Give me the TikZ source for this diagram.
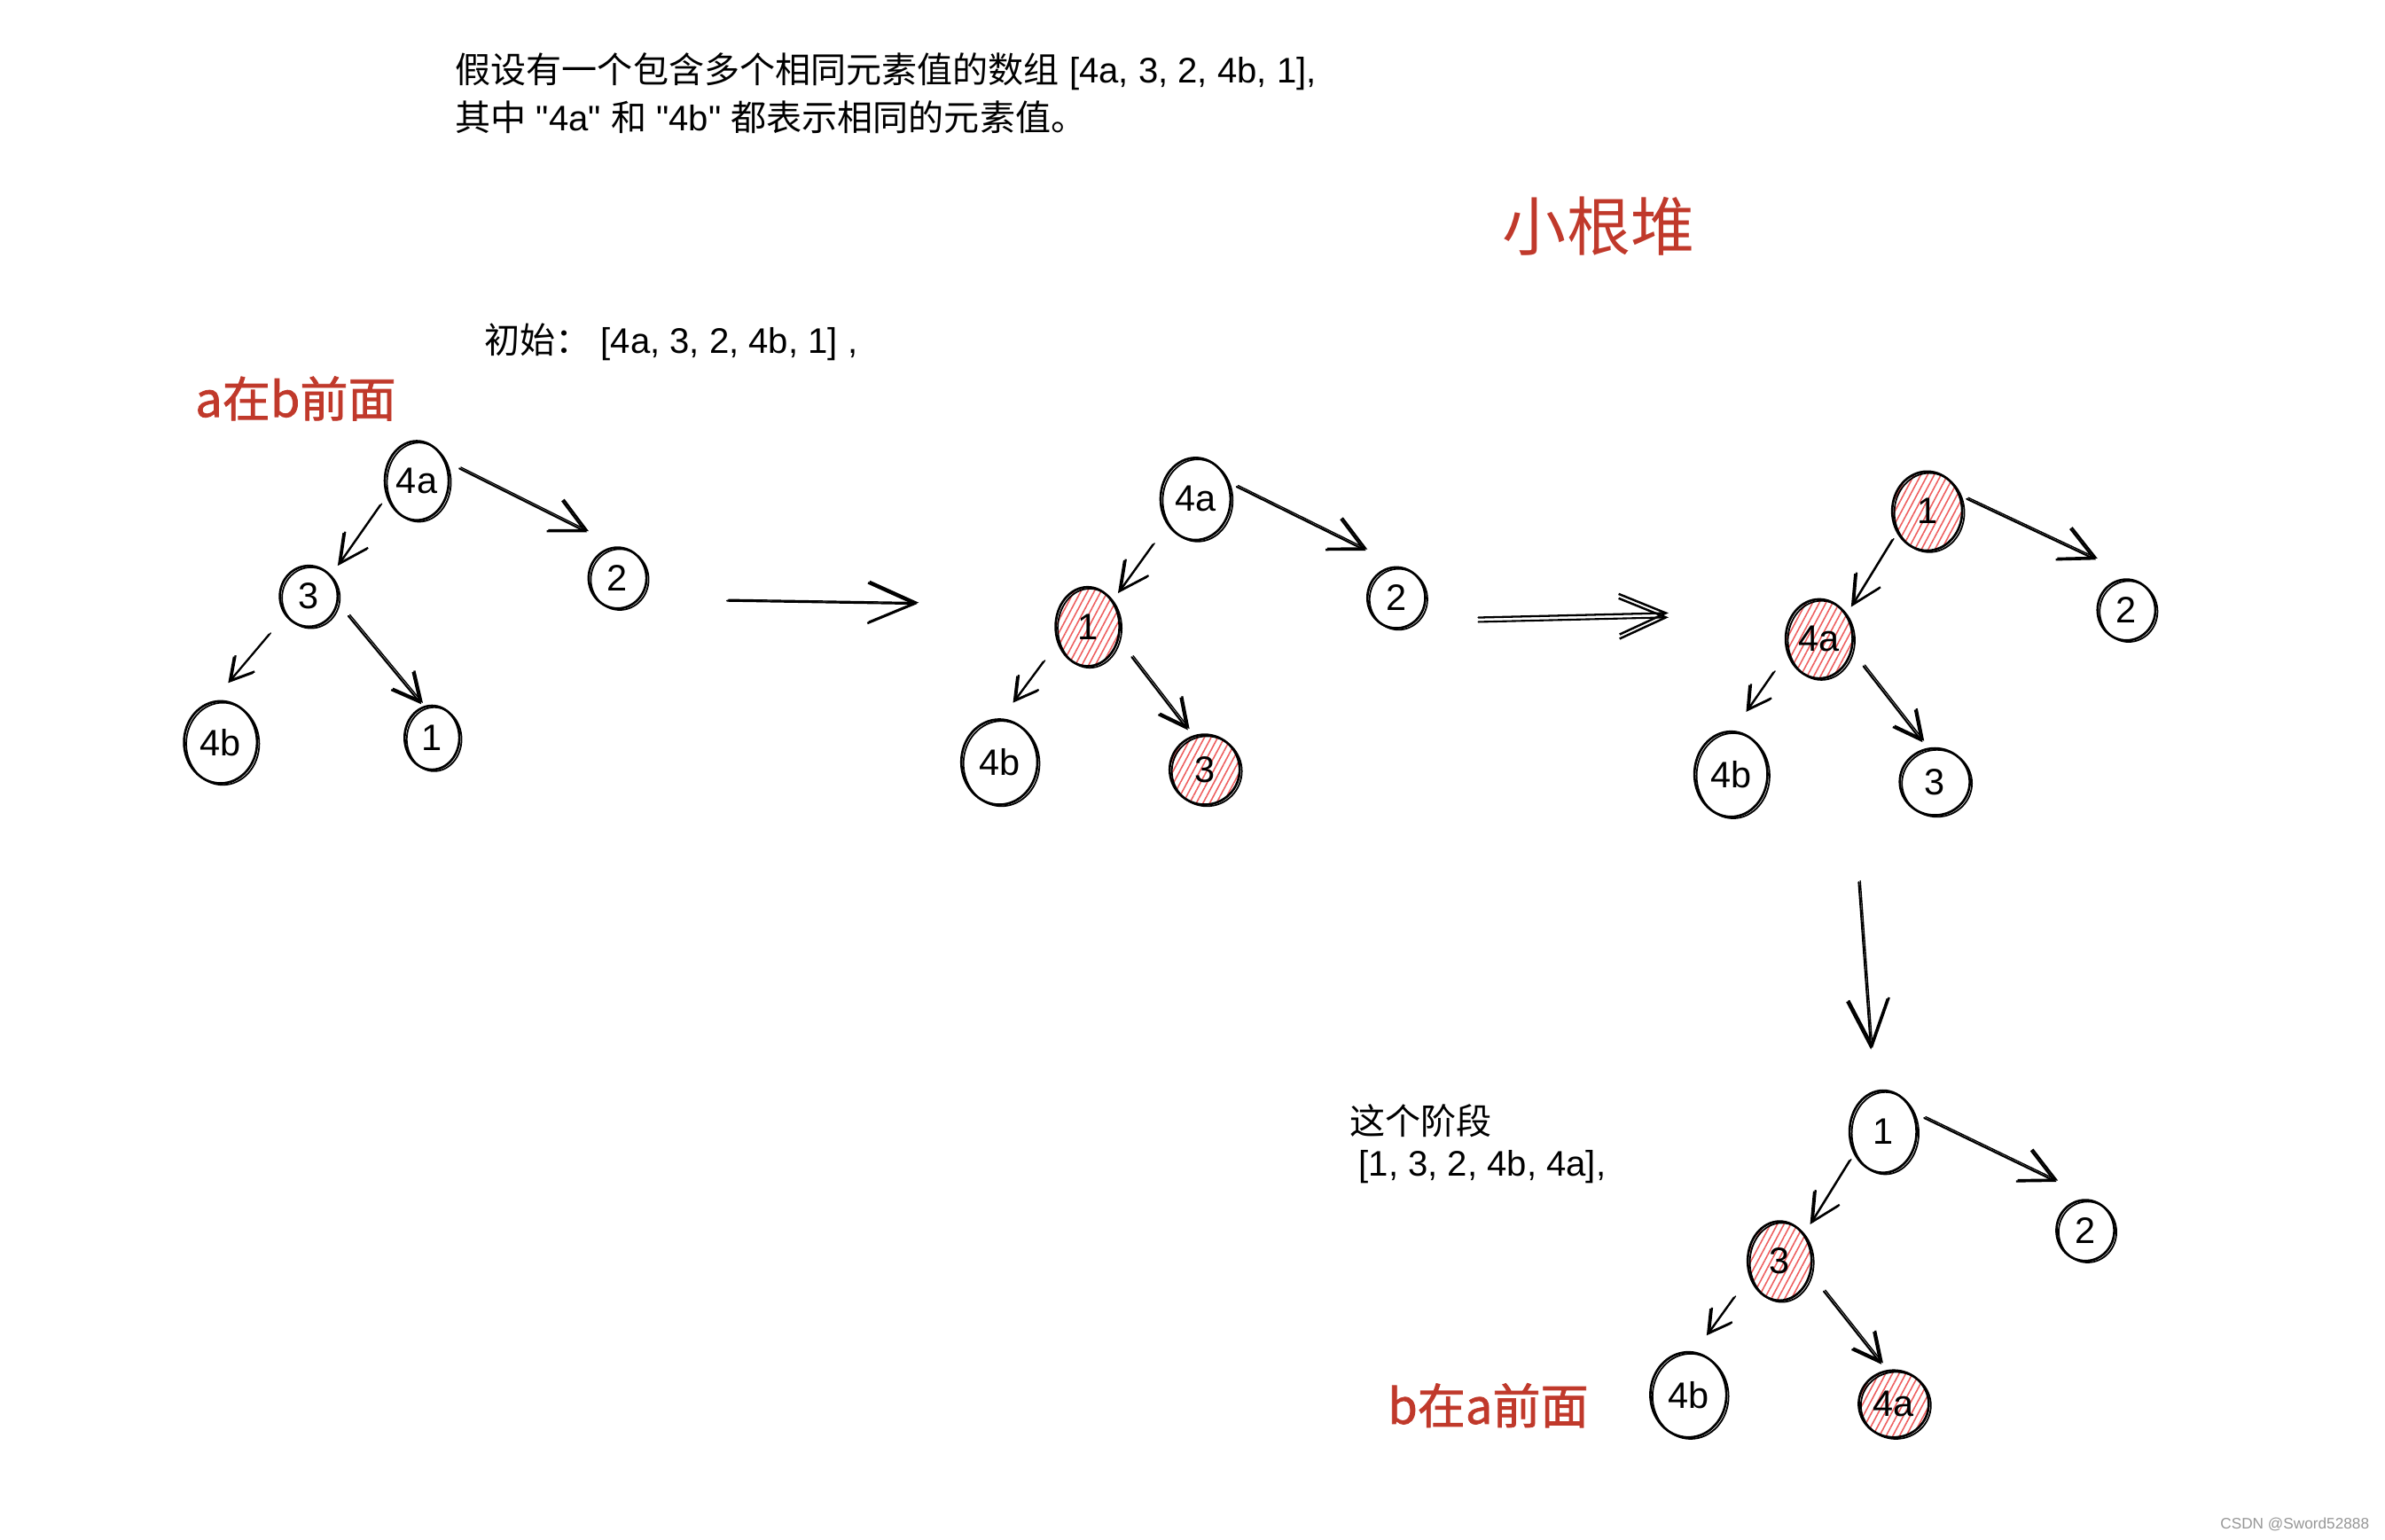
\documentclass[tikz,border=0pt]{standalone}
\usepackage{fontspec}
\setmainfont{Liberation Sans}[Ligatures=TeXOff]
\newfontfamily\cjk{Noto Sans CJK SC}
\newfontfamily\cjkb{Noto Sans CJK SC}[FakeBold=1.4]
\usetikzlibrary{shapes.geometric,arrows.meta,patterns.meta}
\definecolor{redtxt}{RGB}{192,57,43}
\definecolor{hatch}{RGB}{238,95,95}
\definecolor{wm}{RGB}{150,150,150}
\tikzset{
  hn/.style n args={2}{ellipse, draw, line width=0.75pt, inner sep=0pt,
    minimum width=#1*0.4881pt, minimum height=#2*0.4881pt,
    font=\fontsize{11.8}{13}\selectfont,
    postaction={draw, line width=0.5pt, transform canvas={shift={(0.7pt,-0.5pt)}}}},
  hot/.style={pattern={Lines[angle=62,distance=1.9pt,line width=0.45pt]}, pattern color=hatch},
  conn/.style={line width=0.6pt, line cap=round,
    postaction={draw, line width=0.4pt, transform canvas={shift={(0.5pt,0.4pt)}}}},
  dbl/.style={line width=0.65pt, line cap=round,
    postaction={draw, line width=0.6pt, transform canvas={shift={(0pt,-1.4pt)}}}},
  tipL/.style={-{Straight Barb[length=11pt,width=11pt,line width=0.65pt]}},
  tipM/.style={-{Straight Barb[length=9pt,width=9pt,line width=0.65pt]}},
  tipS/.style={-{Straight Barb[length=7pt,width=8pt,line width=0.65pt]}},
  tipB/.style={-{Straight Barb[length=15pt,width=13pt,line width=0.7pt]}},
  txt/.style={inner sep=0pt, anchor=west, font=\fontsize{11.4}{13}\selectfont},
  redlab/.style={inner sep=0pt, anchor=west, text=redtxt, font=\fontsize{15.4}{17}\selectfont\cjkb},
}
\begin{document}
\begin{tikzpicture}[x=0.017156cm, y=-0.017156cm]
\useasboundingbox (0,0) rectangle (1568,1012);

% texts
\node[txt] (top1) at (299,47) {{\cjk 假设有一个包含多个相同元素值的数组} [4a, 3, 2, 4b, 1],};
\node[txt] (top2) at (299,77) {{\cjk 其中} "4a" {\cjk 和} "4b" {\cjk 都表示相同的元素值。}};
\node[inner sep=0pt, text=redtxt, font=\fontsize{20.5}{22}\selectfont\cjk] (title) at (1051,149) {小根堆};
\node[txt] (init) at (318,225) {{\cjk 初始：}~[4a, 3, 2, 4b, 1] ,};
\node[redlab] (redA) at (128,262) {a在b前面};
\node[txt] (stage1) at (887,737) {\cjk 这个阶段};
\node[txt] (stage2) at (893,767) {[1, 3, 2, 4b, 4a],};
\node[redlab] (redB) at (912,924) {b在a前面};
\node[inner sep=0pt, anchor=east, text=wm, font=\fontsize{4.9}{6}\selectfont] (wmk) at (1558,1002) {CSDN @Sword52888};

% tree 1
\node[hn={42}{52}] (t1a) at (274,316) {4a};
\node[hn={38}{40}] (t1b) at (203,392) {3};
\node[hn={38}{40}] (t1c) at (406,380) {2};
\node[hn={48}{54}] (t1d) at (145,488) {4b};
\node[hn={36}{42}] (t1e) at (284,485) {1};
\draw[conn,tipM] ([shift={(-24,16)}]t1a.center) -- ([shift={(19,-20)}]t1b.center);
\draw[conn,tipL] ([shift={(28,-8)}]t1a.center) -- ([shift={(-20,-30)}]t1c.center);
\draw[conn,tipS] ([shift={(-26,25)}]t1b.center) -- ([shift={(5,-39)}]t1d.center);
\draw[conn,tipM] ([shift={(26,13)}]t1b.center) -- ([shift={(-7,-22)}]t1e.center);

% tree 2
\node[hn={46}{54}] (t2a) at (786,328) {4a};
\node[hn={42}{52},hot] (t2b) at (715,412) {1};
\node[hn={38}{40}] (t2c) at (918,393) {2};
\node[hn={50}{56}] (t2d) at (657,501) {4b};
\node[hn={46}{46},hot] (t2e) at (792,506) {3};
\draw[conn,tipM] ([shift={(-28,30)}]t2a.center) -- ([shift={(20,-22)}]t2b.center);
\draw[conn,tipL] ([shift={(27,-8)}]t2a.center) -- ([shift={(-20,-31)}]t2c.center);
\draw[conn,tipS] ([shift={(-29,23)}]t2b.center) -- ([shift={(9,-39)}]t2d.center);
\draw[conn,tipM] ([shift={(29,20)}]t2b.center) -- ([shift={(-11,-26)}]t2e.center);

% tree 3
\node[hn={46}{52},hot] (t3a) at (1267,336) {1};
\node[hn={44}{52},hot] (t3b) at (1196,420) {4a};
\node[hn={38}{40}] (t3c) at (1398,401) {2};
\node[hn={48}{56}] (t3d) at (1138,509) {4b};
\node[hn={46}{44}] (t3e) at (1272,514) {3};
\draw[conn,tipM] ([shift={(-23,19)}]t3a.center) -- ([shift={(21,-21)}]t3b.center);
\draw[conn,tipL] ([shift={(26,-8)}]t3a.center) -- ([shift={(-20,-33)}]t3c.center);
\draw[conn,tipS] ([shift={(-30,22)}]t3b.center) -- ([shift={(10,-41)}]t3d.center);
\draw[conn,tipM] ([shift={(29,18)}]t3b.center) -- ([shift={(-8,-26)}]t3e.center);

% tree 4
\node[hn={44}{54}] (t4a) at (1238,744) {1};
\node[hn={42}{52},hot] (t4b) at (1170,829) {3};
\node[hn={38}{40}] (t4c) at (1371,809) {2};
\node[hn={50}{56}] (t4d) at (1110,917) {4b};
\node[hn={46}{44},hot] (t4e) at (1245,923) {4a};
\draw[conn,tipM] ([shift={(-22,19)}]t4a.center) -- ([shift={(20,-24)}]t4b.center);
\draw[conn,tipL] ([shift={(27,-9)}]t4a.center) -- ([shift={(-19,-32)}]t4c.center);
\draw[conn,tipS] ([shift={(-30,24)}]t4b.center) -- ([shift={(12,-39)}]t4d.center);
\draw[conn,tipM] ([shift={(29,20)}]t4b.center) -- ([shift={(-8,-26)}]t4e.center);

% stage arrows
\coordinate (g1s) at (478,395);
\coordinate (g1e) at (603,397);
\coordinate (g2s) at (972,406);
\coordinate (g2e) at (1097,403);
\coordinate (g3s) at (1222,580);
\coordinate (g3e) at (1230,690);
\draw[conn,tipB] (g1s) -- (g1e);
\draw[dbl,tipB] (g2s) -- (g2e);
\draw[conn,tipB] (g3s) -- (g3e);
\end{tikzpicture}
\end{document}
